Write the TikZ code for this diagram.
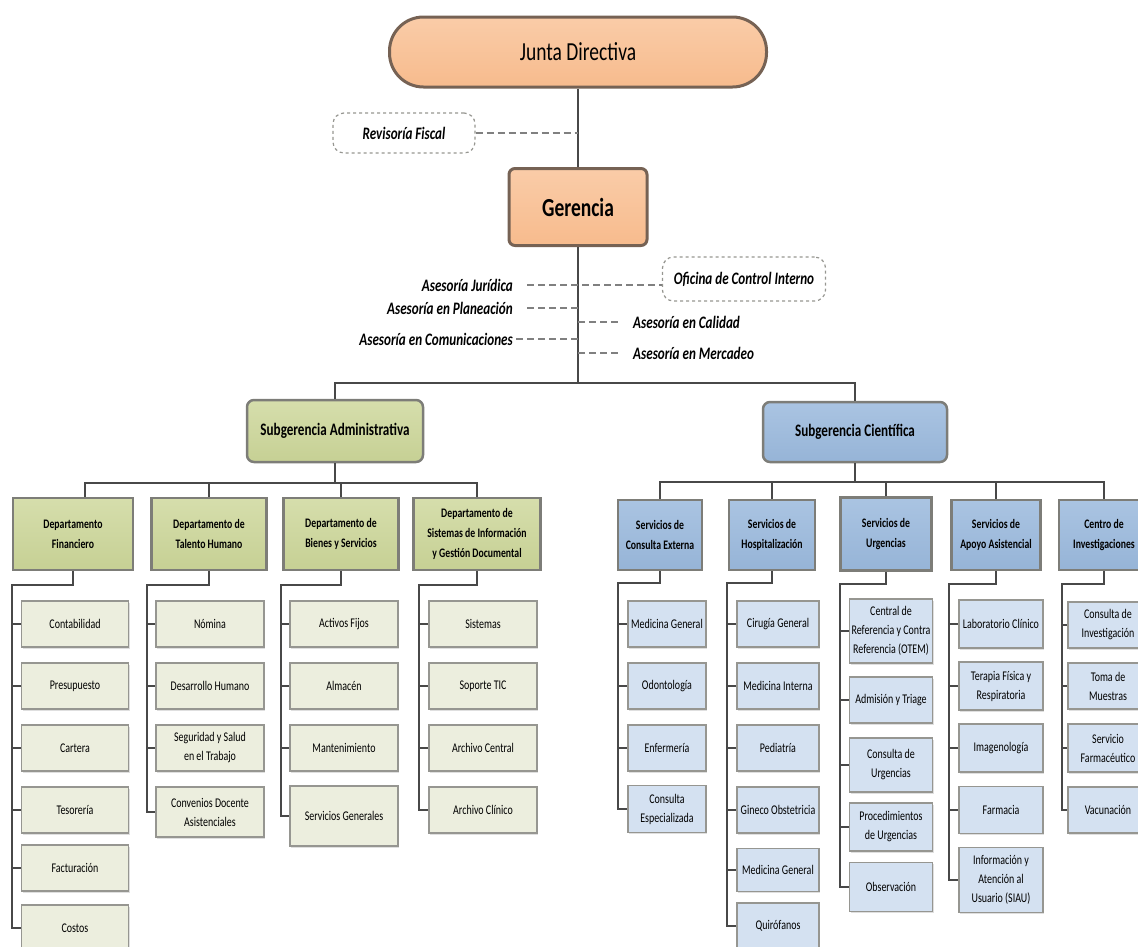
\documentclass[tikz,border=0pt]{standalone}
\usepackage{fontspec}
\setmainfont{Carlito}[FakeStretch=0.75]
\usetikzlibrary{shadows}
\definecolor{orangefill}{RGB}{247,187,141}
\definecolor{orangetop}{RGB}{250,204,168}
\definecolor{orangeline}{RGB}{118,98,84}
\definecolor{greenmid}{RGB}{198,208,148}
\definecolor{greentop}{RGB}{214,222,172}
\definecolor{greenlight}{RGB}{236,238,222}
\definecolor{bluemid}{RGB}{150,180,215}
\definecolor{bluetop}{RGB}{170,196,226}
\definecolor{bluelight}{RGB}{212,225,241}
\definecolor{framegray}{RGB}{125,125,120}
\definecolor{itemgray}{RGB}{150,150,145}
\definecolor{linegray}{RGB}{72,72,72}
\definecolor{dashgray}{RGB}{128,128,128}

\begin{document}
\begin{tikzpicture}[x=1pt,y=-1pt,
  conn/.style={draw=linegray,line width=1.8pt},
  asesline/.style={draw=dashgray,line width=2.6pt,dash pattern=on 7pt off 4pt},
  headbox/.style={draw=orangeline,line width=3pt,top color=orangetop,bottom color=orangefill,inner sep=0pt},
  dashbox/.style={draw=itemgray,line width=1.2pt,dashed,rounded corners=11pt,inner sep=0pt,
    font=\fontsize{17.5}{20}\selectfont\bfseries\itshape},
  asesor/.style={inner sep=0pt,font=\fontsize{17.5}{20}\selectfont\bfseries\itshape},
  subger/.style={draw=framegray,line width=2.5pt,rounded corners=7pt,inner sep=0pt,
    font=\fontsize{17.5}{20}\selectfont\bfseries},
  dept/.style={draw=framegray,line width=2.5pt,inner sep=0pt,align=center,minimum height=72pt,
    font=\fontsize{13}{20}\selectfont\bfseries},
  admdept/.style={dept,top color=greentop,bottom color=greenmid},
  ciedept/.style={dept,top color=bluetop,bottom color=bluemid,minimum height=70pt},
  item/.style={draw=itemgray,line width=1.3pt,inner sep=0pt,align=center,minimum height=46pt,
    font=\fontsize{13.3}{19}\selectfont,
    drop shadow={shadow xshift=1pt,shadow yshift=-1.5pt,opacity=0.25}},
  admitem/.style={item,fill=greenlight,minimum width=108pt},
  cieitem/.style={item,fill=bluelight,minimum width=84pt}]
\useasboundingbox (0,0) rectangle (1138,946);

% direccion
\node[headbox,rounded corners=34pt,minimum width=377pt,minimum height=70pt,
  font=\fontsize{26}{30}\selectfont] (junta) at (578,52) {Junta Directiva};
\node[dashbox,minimum width=142pt,minimum height=40pt] (revisoria) at (404,133) {Revisoría Fiscal};
\node[headbox,rounded corners=6pt,minimum width=138pt,minimum height=77pt,
  font=\fontsize{26}{30}\selectfont\bfseries] (gerencia) at (578,207) {Gerencia};
\draw[conn] (junta.south) -- (gerencia.north);
\draw[asesline] (revisoria.east) -- (revisoria.east -| junta.south);

% asesorias
\coordinate (bus) at (578,383);
\node[dashbox,minimum width=163pt,minimum height=44pt] (oficina) at (744,279) {Oficina de Control Interno};
\node[asesor,anchor=east] (juridica) at (513,285) {Asesoría Jurídica};
\node[asesor,anchor=east] (planeacion) at (513,308) {Asesoría en Planeación};
\node[asesor,anchor=east] (comunicaciones) at (513,339) {Asesoría en Comunicaciones};
\node[asesor,anchor=west] (calidad) at (633,322) {Asesoría en Calidad};
\node[asesor,anchor=west] (mercadeo) at (633,353) {Asesoría en Mercadeo};
\draw[conn] (gerencia.south) -- (bus);
\draw[asesline] ([xshift=14pt]juridica.east) -- (juridica.east -| oficina.west);
\draw[asesline] ([xshift=14pt]planeacion.east) -- (planeacion.east -| bus);
\draw[asesline] ([xshift=3pt]comunicaciones.east) -- (comunicaciones.east -| bus);
\draw[asesline] (calidad.west -| bus) -- ([xshift=-15pt]calidad.west);
\draw[asesline] (mercadeo.west -| bus) -- ([xshift=-15pt]mercadeo.west);

% subgerencias
\node[subger,top color=greentop,bottom color=greenmid,minimum width=176pt,minimum height=62pt] (subadm) at (335,431) {Subgerencia Administrativa};
\node[subger,top color=bluetop,bottom color=bluemid,minimum width=184pt,minimum height=60pt] (subcie) at (855,432) {Subgerencia Científica};
\draw[conn] (subadm.north) |- (bus) -| (subcie.north);

% departamentos
\coordinate (admbus) at (335,483);
\node[admdept,minimum width=120pt] (fin) at (73,534) {Departamento\\Financiero};
\node[admdept,minimum width=115pt] (tal) at (209,534) {Departamento de\\Talento Humano};
\node[admdept,minimum width=115pt] (bie) at (341,534) {Departamento de\\Bienes y Servicios};
\node[admdept,minimum width=127pt] (sis) at (477,534) {Departamento de\\Sistemas de Información\\y Gestión Documental};
\draw[conn] (subadm.south) -- (admbus);
\draw[conn] ([xshift=12pt]fin.north) |- (admbus) -| (sis.north);
\draw[conn] (tal.north) -- (tal.north |- admbus);
\draw[conn] (bie.north) -- (bie.north |- admbus);

\coordinate (ciebus) at (855,482);
\node[ciedept,minimum width=84pt] (cex) at (660,535) {Servicios de\\Consulta Externa};
\node[ciedept,minimum width=86pt] (hos) at (772,535) {Servicios de\\Hospitalización};
\node[ciedept,minimum width=91pt,minimum height=73pt] (urg) at (886,534) {Servicios de\\Urgencias};
\node[ciedept,minimum width=89pt] (apo) at (996,535) {Servicios de\\Apoyo Asistencial};
\node[ciedept,minimum width=90pt] (inv) at (1104,535) {Centro de\\Investigaciones};
\draw[conn] (subcie.south) -- (ciebus);
\draw[conn] (cex.north) |- (ciebus) -| (inv.north);
\draw[conn] (hos.north) -- (hos.north |- ciebus);
\draw[conn] (urg.north) -- (urg.north |- ciebus);
\draw[conn] (apo.north) -- (apo.north |- ciebus);

% financiero
\coordinate (finsp) at (12,585);
\node[admitem,minimum width=107pt] (contab) at (75,624) {Contabilidad};
\node[admitem,minimum width=107pt] (presup) at (75,686) {Presupuesto};
\node[admitem,minimum width=107pt] (cartera) at (75,748) {Cartera};
\node[admitem,minimum width=107pt] (tesor) at (75,810) {Tesorería};
\node[admitem,minimum width=107pt] (factur) at (75,868) {Facturación};
\node[admitem,minimum width=107pt] (costos) at (75,928) {Costos};
\draw[conn] (fin.south) |- (finsp) |- (costos.west);
\foreach \n in {contab,presup,cartera,tesor,factur}
  \draw[conn] (finsp |- \n.west) -- (\n.west);

% talento humano
\coordinate (talsp) at (147,585);
\node[admitem] (nomina) at (210,624) {Nómina};
\node[admitem] (desarr) at (210,686) {Desarrollo Humano};
\node[admitem] (segur) at (210,748) {Seguridad y Salud\\en el Trabajo};
\node[admitem,minimum height=50pt] (conven) at (210,812) {Convenios Docente\\Asistenciales};
\draw[conn] (tal.south) |- (talsp) |- (conven.west);
\foreach \n in {nomina,desarr,segur}
  \draw[conn] (talsp |- \n.west) -- (\n.west);

% bienes y servicios
\coordinate (biesp) at (281,585);
\node[admitem] (activos) at (344,624) {Activos Fijos};
\node[admitem] (almacen) at (344,686) {Almacén};
\node[admitem] (manten) at (344,748) {Mantenimiento};
\node[admitem,minimum height=60pt] (servgen) at (344,816) {Servicios Generales};
\draw[conn] (bie.south) |- (biesp) |- (servgen.west);
\foreach \n in {activos,almacen,manten}
  \draw[conn] (biesp |- \n.west) -- (\n.west);

% sistemas
\coordinate (sissp) at (419,585);
\node[admitem] (sistemas) at (483,624) {Sistemas};
\node[admitem] (soporte) at (483,686) {Soporte TIC};
\node[admitem] (archcen) at (483,748) {Archivo Central};
\node[admitem] (archcli) at (483,810) {Archivo Clínico};
\draw[conn] (sis.south) |- (sissp) |- (archcli.west);
\foreach \n in {sistemas,soporte,archcen}
  \draw[conn] (sissp |- \n.west) -- (\n.west);

% consulta externa
\coordinate (cexsp) at (618,583);
\node[cieitem,minimum width=78pt] (medgen) at (667,624) {Medicina General};
\node[cieitem,minimum width=78pt] (odonto) at (667,686) {Odontología};
\node[cieitem,minimum width=78pt] (enferm) at (667,748) {Enfermería};
\node[cieitem,minimum width=78pt,minimum height=47pt] (consesp) at (667,809) {Consulta\\Especializada};
\draw[conn] (cex.south) |- (cexsp) |- (consesp.west);
\foreach \n in {medgen,odonto,enferm}
  \draw[conn] (cexsp |- \n.west) -- (\n.west);

% hospitalizacion
\coordinate (hossp) at (727,583);
\node[cieitem,minimum width=82pt] (cirugia) at (778,624) {Cirugía General};
\node[cieitem,minimum width=82pt] (medint) at (778,686) {Medicina Interna};
\node[cieitem,minimum width=82pt] (pediat) at (778,748) {Pediatría};
\node[cieitem,minimum width=82pt] (gineco) at (778,810) {Gineco Obstetricia};
\node[cieitem,minimum width=82pt,minimum height=43pt] (medgenh) at (778,870) {Medicina General};
\node[cieitem,minimum width=82pt] (quirof) at (778,926) {Quirófanos};
\draw[conn] (hos.south) |- (hossp) |- (quirof.west);
\foreach \n in {cirugia,medint,pediat,gineco,medgenh}
  \draw[conn] (hossp |- \n.west) -- (\n.west);

% urgencias
\coordinate (urgsp) at (840,584);
\node[cieitem,minimum width=83pt,minimum height=64pt] (central) at (891,631) {Central de\\Referencia y Contra\\Referencia (OTEM)};
\node[cieitem,minimum width=83pt] (admis) at (891,700) {Admisión y Triage};
\node[cieitem,minimum width=83pt,minimum height=54pt] (conurg) at (891,765) {Consulta de\\Urgencias};
\node[cieitem,minimum width=83pt,minimum height=48pt] (proced) at (891,827) {Procedimientos\\de Urgencias};
\node[cieitem,minimum width=83pt,minimum height=49pt] (observ) at (891,887) {Observación};
\draw[conn] (urg.south) |- (urgsp) |- (observ.west);
\foreach \n in {central,admis,conurg,proced}
  \draw[conn] (urgsp |- \n.west) -- (\n.west);

% apoyo asistencial
\coordinate (aposp) at (949,584);
\node[cieitem,minimum height=48pt] (labclin) at (1001,624) {Laboratorio Clínico};
\node[cieitem,minimum height=48pt] (terapia) at (1001,686) {Terapia Física y\\Respiratoria};
\node[cieitem,minimum height=48pt] (imagen) at (1001,748) {Imagenología};
\node[cieitem,minimum height=47pt] (farmacia) at (1001,810) {Farmacia};
\node[cieitem,minimum height=65pt] (siau) at (1001,880) {Información y\\Atención al\\Usuario (SIAU)};
\draw[conn] (apo.south) |- (aposp) |- (siau.west);
\foreach \n in {labclin,terapia,imagen,farmacia}
  \draw[conn] (aposp |- \n.west) -- (\n.west);

% investigaciones
\coordinate (invsp) at (1062,584);
\node[cieitem,minimum width=80pt] (coninv) at (1108,625) {Consulta de\\Investigación};
\node[cieitem,minimum width=80pt] (toma) at (1108,686) {Toma de\\Muestras};
\node[cieitem,minimum width=80pt,minimum height=48pt] (servfar) at (1108,748) {Servicio\\Farmacéutico};
\node[cieitem,minimum width=80pt] (vacuna) at (1108,810) {Vacunación};
\draw[conn] (inv.south) |- (invsp) |- (vacuna.west);
\foreach \n in {coninv,toma,servfar}
  \draw[conn] (invsp |- \n.west) -- (\n.west);
\end{tikzpicture}
\end{document}
